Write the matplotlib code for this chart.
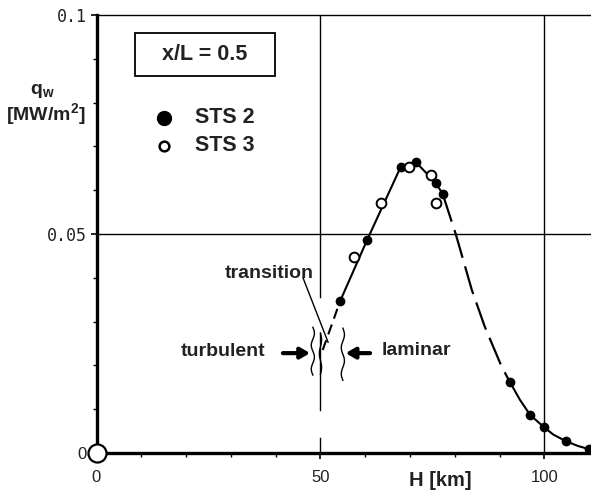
import numpy as np
import matplotlib.pyplot as plt
from matplotlib.patches import Rectangle

# ----------------------------------------------------------------------
# Datos (H en km, q_w en MW/m^2)
# ----------------------------------------------------------------------
sts2_h = [54.4, 60.4, 68.0, 71.3, 75.8, 77.3, 92.3, 96.8, 99.9, 104.8, 109.9]
sts2_q = [0.0347, 0.0486, 0.0653, 0.0664, 0.0616, 0.0591, 0.0162, 0.0087, 0.0059, 0.0027, 0.0009]

sts3_h = [57.5, 63.5, 69.8, 74.7, 75.8]
sts3_q = [0.0447, 0.0571, 0.0653, 0.0635, 0.0571]

# curva ajustada, por tramos
lead_h = [50.5, 54.4]                       # discontinuo (transicion)
lead_q = [0.0235, 0.0347]
rise_h = [54.4, 60.4, 68.0, 71.3, 75.8, 77.3]   # continuo
rise_q = [0.0347, 0.0486, 0.0655, 0.0664, 0.0616, 0.0591]
fall_h = [77.3, 80.2, 83.8, 86.7, 90.5, 92.3]   # discontinuo
fall_q = [0.0591, 0.0500, 0.0372, 0.0288, 0.0196, 0.0162]
tail_h = [92.3, 94.5, 96.8, 99.9, 102.0, 104.8, 107.5, 109.9]  # continuo
tail_q = [0.0162, 0.0122, 0.0087, 0.0059, 0.0042, 0.0027, 0.0016, 0.0009]

x_ticks = [0, 50, 100]
y_ticks = [0, 0.05, 0.1]
y_ticklabels = ["0", "0.05", "0.1"]

BOLD = dict(family="Liberation Sans", weight="bold", color="#222222")

fig = plt.figure(figsize=(5.91, 4.96), dpi=100)
ax = fig.add_axes([96.5 / 591, 43 / 496, 1 - 96.5 / 591, 438 / 496])
ax.set_xlim(0, 110.4)
ax.set_ylim(0, 0.1)

# rejilla
ax.axhline(0.05, color="black", lw=1.0)
ax.axvline(100, color="black", lw=1.0)
for y0, y1 in [(0.1, 0.0356), (0.0274, 0.0098), (0.0034, 0.0)]:
    ax.plot([50, 50], [y0, y1], color="black", lw=1.0)

# curva
ax.plot(lead_h, lead_q, color="black", lw=1.5, dashes=(5, 3))
ax.plot(rise_h, rise_q, color="black", lw=1.5)
ax.plot(fall_h, fall_q, color="black", lw=1.6, dashes=(13, 4))
ax.plot(tail_h, tail_q, color="black", lw=1.5)

# datos
ax.plot(sts2_h, sts2_q, "o", ms=6, color="black", clip_on=False, zorder=5)
ax.plot(sts3_h, sts3_q, "o", ms=7, mfc="white", mec="black", mew=1.4, zorder=5)
ax.plot([0], [0], "o", ms=13, mfc="white", mec="black", mew=1.6, clip_on=False, zorder=6)

# lineas onduladas (zona de transicion)
t = np.linspace(0, 1, 80)
for xc, ya, yb in [(48.3, 0.0287, 0.0178), (55.0, 0.0285, 0.0166)]:
    ax.plot(xc + 0.35 * np.sin(t * 4 * np.pi), ya + (yb - ya) * t, color="black", lw=1.0)
ax.plot(50 + 0.25 * np.sin(t * 3 * np.pi), 0.0274 + (0.018 - 0.0274) * t, color="black", lw=1.0)

# anotaciones
ax.plot([46.1, 51.7], [0.0400, 0.0253], color="black", lw=1.0)
ax.text(48.6, 0.0409, "transition", ha="right", va="center", fontsize=14, **BOLD)
ax.annotate("", xy=(48.3, 0.0228), xytext=(41.0, 0.0228),
            arrowprops=dict(arrowstyle="-|>,head_length=0.55,head_width=0.32", lw=3, color="black"))
ax.annotate("", xy=(55.0, 0.0228), xytext=(61.7, 0.0228),
            arrowprops=dict(arrowstyle="-|>,head_length=0.55,head_width=0.32", lw=3, color="black"))
ax.text(37.6, 0.0231, "turbulent", ha="right", va="center", fontsize=14, **BOLD)
ax.text(63.7, 0.0235, "laminar", ha="left", va="center", fontsize=14, **BOLD)

# leyenda manual
ax.plot([15.1], [0.0765], "o", ms=10, color="black")
ax.plot([15.0], [0.0701], "o", ms=7, mfc="white", mec="black", mew=1.8)
ax.text(22.0, 0.0765, "STS 2", ha="left", va="center", fontsize=15.5, **BOLD)
ax.text(22.0, 0.0701, "STS 3", ha="left", va="center", fontsize=15.5, **BOLD)

# caja x/L
fig.patches.append(Rectangle((135 / 591, 1 - 76 / 496), 140 / 591, 43 / 496,
                             transform=fig.transFigure, fill=False, ec="black", lw=1.3))
fig.text(205 / 591, 1 - 55 / 496, "x/L = 0.5", ha="center", va="center", fontsize=15.5, **BOLD)

# ejes
for side in ["left", "bottom"]:
    ax.spines[side].set_linewidth(2.4)
ax.spines["top"].set_linewidth(1.0)
ax.spines["right"].set_visible(False)

ax.set_xticks(x_ticks)
ax.set_xticks(np.arange(10, 110, 10), minor=True)
ax.set_yticks(y_ticks)
ax.set_yticks(np.arange(0.01, 0.1, 0.01), minor=True)
ax.set_xticklabels([str(v) for v in x_ticks], family="Liberation Sans", fontsize=12, color="#222222")
ax.set_yticklabels(y_ticklabels, family="DejaVu Sans Mono", fontsize=12, color="#222222")
ax.get_yticklabels()[0].set_family("Liberation Sans")
ax.tick_params(which="major", length=4, width=1.2, pad=3)
ax.tick_params(which="minor", length=3, width=1.0)
ax.tick_params(axis="x", which="major", pad=8)

fig.text(42 / 591, 1 - 91 / 496, r"q$_{\mathregular{w}}$", ha="center", va="center", fontsize=14, **BOLD)
fig.text(46 / 591, 1 - 115 / 496, r"[MW/m$^{\mathregular{2}}$]", ha="center", va="center", fontsize=14, **BOLD)
fig.text(440 / 591, 1 - 480 / 496, "H [km]", ha="center", va="center", fontsize=14.5, **BOLD)

fig.savefig("out.png", dpi=100)
